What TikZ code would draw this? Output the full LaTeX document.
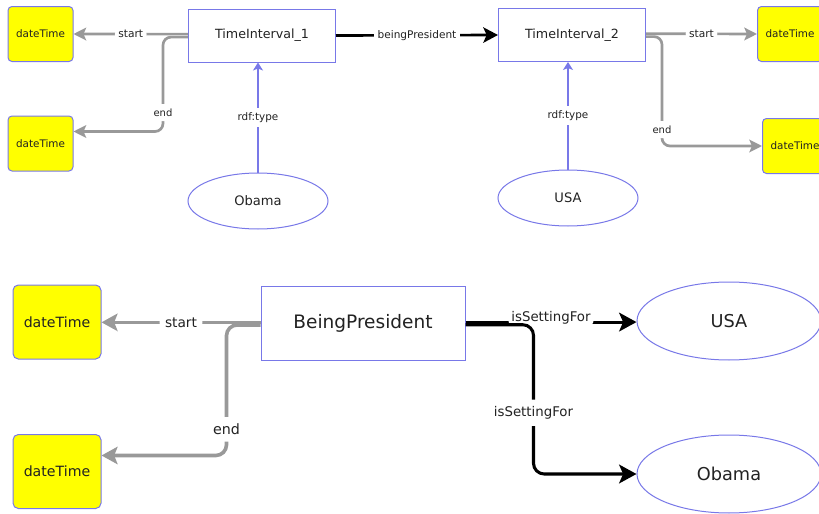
\documentclass[tikz,border=0pt]{standalone}
\usepackage{fontspec}
\setmainfont{DejaVu Sans}
\usetikzlibrary{arrows.meta,shapes.geometric}
\definecolor{nodeblue}{RGB}{120,120,232}
\definecolor{edgegray}{RGB}{153,153,153}
\definecolor{dtyellow}{RGB}{255,255,0}
\definecolor{textdark}{RGB}{34,34,34}

\begin{document}
\begin{tikzpicture}[x=0.75pt,y=-0.75pt,
  fs/.style={font=\fontsize{#1}{#1}\selectfont, text=textdark},
  dtsmall/.style={draw=nodeblue, fill=dtyellow, rounded corners=3pt, line width=0.75pt,
    inner sep=0pt, minimum width=48.75pt, minimum height=41.25pt, fs=7.8pt},
  dtlarge/.style={draw=nodeblue, fill=dtyellow, rounded corners=4pt, line width=0.75pt,
    inner sep=0pt, minimum width=66pt, minimum height=55.5pt, fs=10.6pt},
  boxsmall/.style={draw=nodeblue, fill=white, line width=0.75pt, inner sep=0pt,
    minimum width=110.25pt, minimum height=39.75pt, fs=9.5pt},
  boxlarge/.style={draw=nodeblue, fill=white, line width=0.75pt, inner sep=0pt,
    minimum width=153pt, minimum height=55.5pt, fs=13.9pt},
  ellsmall/.style={ellipse, draw=nodeblue, fill=white, line width=0.75pt, inner sep=0pt,
    minimum width=105pt, minimum height=42pt, fs=9.8pt},
  elllarge/.style={ellipse, draw=nodeblue, fill=white, line width=0.75pt, inner sep=0pt,
    minimum width=138pt, minimum height=58.5pt, fs=13.3pt},
  lbls/.style={fill=white, inner xsep=2.5pt, inner ysep=3.5pt, fs=#1},
  lbll/.style={fill=white, inner xsep=4pt, inner ysep=5pt, fs=#1},
  grayS/.style={draw=edgegray, line width=2pt, rounded corners=6pt,
    -{Stealth[length=9.5pt, width=9.5pt, inset=2pt]}},
  grayL/.style={draw=edgegray, line width=2.7pt, rounded corners=8pt,
    -{Stealth[length=12pt, width=13pt, inset=2.5pt]}},
  blackS/.style={draw=black, line width=2pt,
    -{Stealth[length=11pt, width=11.5pt, inset=2.5pt]}},
  blackL/.style={draw=black, line width=2.3pt, rounded corners=8pt,
    -{Stealth[length=13pt, width=14pt, inset=3pt]}},
  typeedge/.style={draw=nodeblue, line width=0.9pt,
    -{Stealth[length=6pt, width=7.5pt, inset=1.5pt]}},
]
\useasboundingbox (0,0) rectangle (819,514);

% upper graph: time intervals
\node[dtsmall] (dt1) at (40.5,34) {dateTime};
\node[dtsmall] (dt2) at (40.5,143.5) {dateTime};
\node[dtsmall] (dt3) at (790,34) {dateTime};
\node[dtsmall] (dt4) at (795,146) {dateTime};
\node[boxsmall] (ti1) at (262,35.5) {TimeInterval\_1};
\node[boxsmall] (ti2) at (572,35) {TimeInterval\_2};
\node[ellsmall] (obama1) at (258,201) {Obama};
\node[ellsmall] (usa1) at (568,198) {USA};

\draw[grayS] ([yshift=-1.2pt]ti1.west) -- ++(-25,0) |- node[lbls=7.5pt, pos=0.4] {end} ([yshift=9pt]dt2.east);
\draw[grayS] ([yshift=1pt]ti1.west) -- (dt1.east) node[lbls=8pt, midway] {start};
\draw[grayS] ([yshift=-1.2pt]ti2.east) -- ++(16,0) |- node[lbls=7.5pt, pos=0.425] {end} (dt4.west);
\draw[grayS] ([yshift=1pt]ti2.east) -- (dt3.west) node[lbls=8pt, midway] {start};
\draw[blackS] (ti1.east) -- (ti2.west) node[lbls=7.9pt, midway] {beingPresident};
\draw[typeedge] (obama1.north) -- (obama1.north |- ti1.south) node[lbls=7.8pt, midway] {rdf:type};
\draw[typeedge] (usa1.north) -- (usa1.north |- ti2.south) node[lbls=7.8pt, midway] {rdf:type};

% lower graph: situation
\node[dtlarge] (bdt1) at (57,322) {dateTime};
\node[dtlarge] (bdt2) at (57,471.5) {dateTime};
\node[boxlarge] (bp) at (363,323) {BeingPresident};
\node[elllarge] (usa2) at (729,321) {USA};
\node[elllarge] (obama2) at (729,474) {Obama};

\draw[grayL] ([yshift=-1.5pt]bp.west) -- ++(-34,0) |- node[lbll=10.7pt, pos=0.4] {end} ([yshift=12pt]bdt2.east);
\draw[grayL] ([yshift=0.5pt]bp.west) -- ([yshift=0.5pt]bp.west -| bdt1.east) node[lbll=10.3pt, midway] {start};
\draw[blackL] ([yshift=0.7pt]bp.east) -- ([yshift=0.7pt]bp.east -| usa2.west) node[lbls=10pt, midway, yshift=3pt] {isSettingFor};
\draw[blackL] ([yshift=-1.3pt]bp.east) -- ++(68,0) |- node[lbll=10pt, pos=0.295] {isSettingFor} (obama2.west);
\end{tikzpicture}
\end{document}
